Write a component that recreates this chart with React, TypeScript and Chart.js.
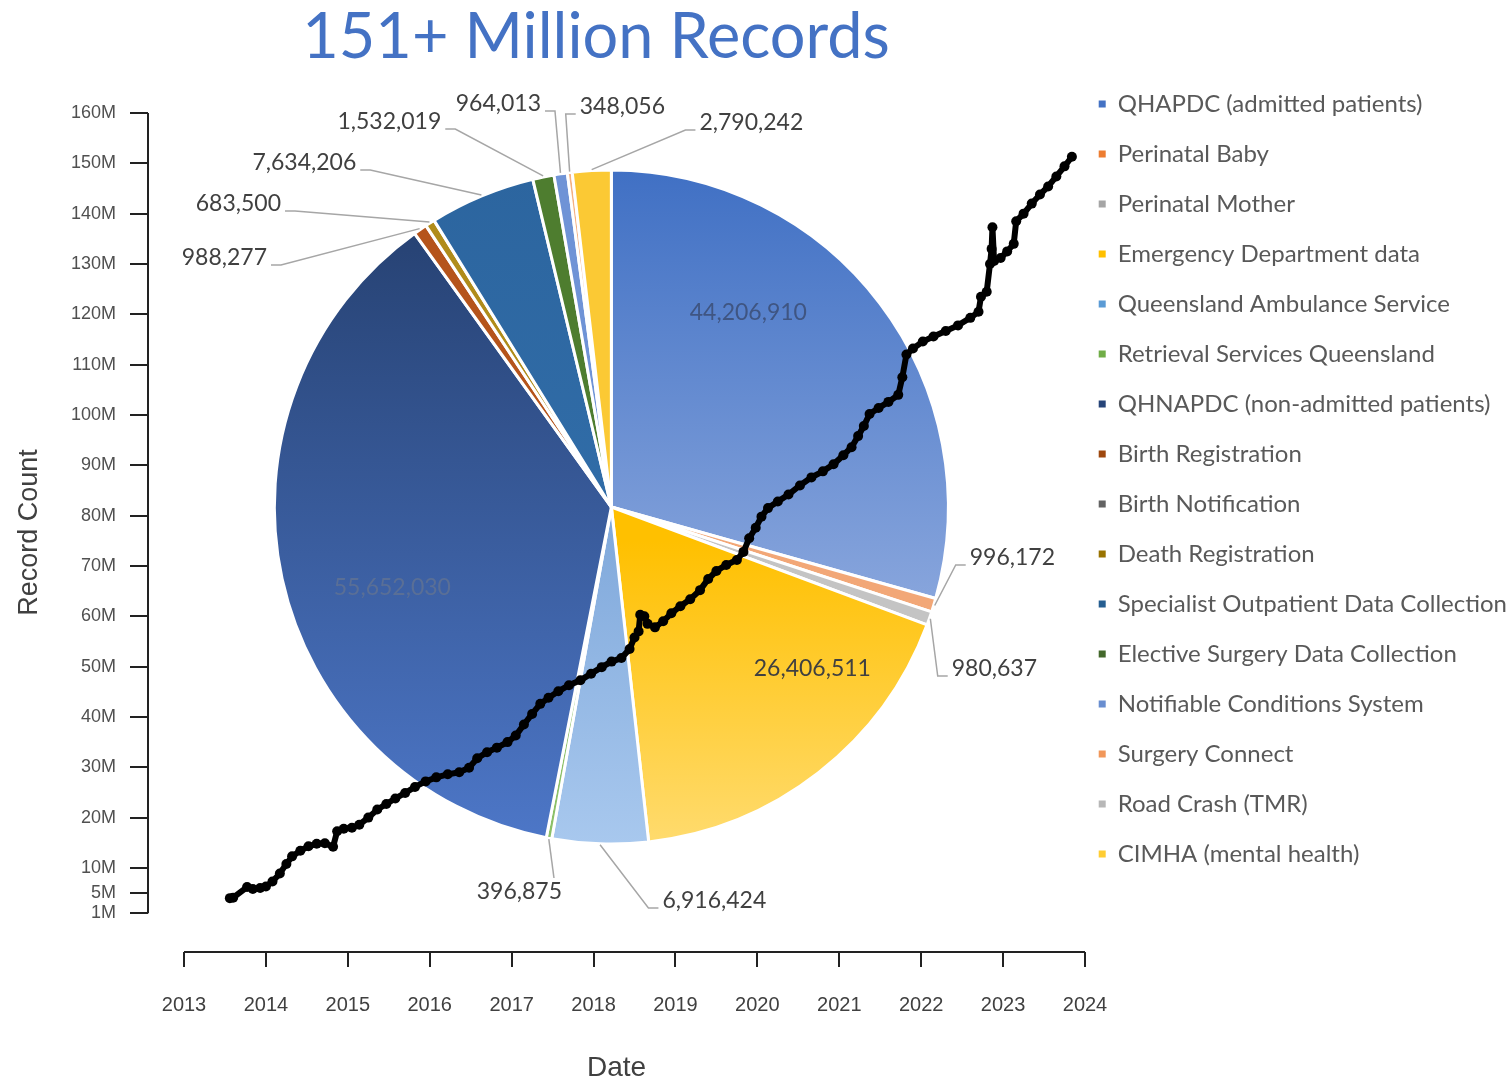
import React, { useEffect, useRef } from "react";
import { Chart, registerables } from "chart.js";

Chart.register(...registerables);

// ---------- data ----------
const TITLE = "151+ Million Records";

const SOURCES = [
  "QHAPDC (admitted patients)",
  "Perinatal Baby",
  "Perinatal Mother",
  "Emergency Department data",
  "Queensland Ambulance Service",
  "Retrieval Services Queensland",
  "QHNAPDC (non-admitted patients)",
  "Birth Registration",
  "Birth Notification",
  "Death Registration",
  "Specialist Outpatient Data Collection",
  "Elective Surgery Data Collection",
  "Notifiable Conditions System",
  "Surgery Connect",
  "Road Crash (TMR)",
  "CIMHA (mental health)",
];

const RECORDS = [
  44206910, 996172, 980637, 26406511, 6916424, 396875, 55652030, 988277, 0,
  683500, 7634206, 1532019, 964013, 348056, 0, 2790242,
];

const LINE_YEARS = [
  2013.56, 2013.6, 2013.77, 2013.84, 2013.93, 2014.0, 2014.08, 2014.17, 2014.25,
  2014.32, 2014.42, 2014.52, 2014.62, 2014.72, 2014.82, 2014.87, 2014.95,
  2015.05, 2015.14, 2015.25, 2015.36, 2015.47, 2015.58, 2015.7, 2015.82,
  2015.95, 2016.08, 2016.22, 2016.36, 2016.48, 2016.58, 2016.7, 2016.82,
  2016.95, 2017.05, 2017.15, 2017.25, 2017.35, 2017.45, 2017.57, 2017.7,
  2017.84, 2017.97, 2018.1, 2018.22, 2018.34, 2018.44, 2018.5, 2018.55,
  2018.57, 2018.62, 2018.66, 2018.75, 2018.85, 2018.95, 2019.06, 2019.18,
  2019.3, 2019.4, 2019.5, 2019.62, 2019.75, 2019.83, 2019.9, 2019.98, 2020.05,
  2020.13, 2020.25, 2020.38, 2020.52, 2020.66, 2020.8, 2020.93, 2021.05,
  2021.15, 2021.23, 2021.3, 2021.37, 2021.48, 2021.6, 2021.72, 2021.77,
  2021.82, 2021.9, 2022.02, 2022.15, 2022.3, 2022.45, 2022.6, 2022.7, 2022.73,
  2022.8, 2022.84, 2022.86, 2022.87, 2022.89, 2022.97, 2023.05, 2023.13,
  2023.16, 2023.25, 2023.35, 2023.45, 2023.55, 2023.65, 2023.75, 2023.84,
];

const LINE_MILLIONS = [
  4.0, 4.1, 6.2, 5.8, 6.0, 6.3, 7.3, 8.9, 10.8, 12.3, 13.4, 14.3, 14.8, 14.9,
  14.2, 17.3, 17.8, 18.0, 18.6, 20.0, 21.6, 22.7, 23.8, 24.9, 26.1, 27.2, 28.0,
  28.6, 29.0, 29.9, 31.8, 33.0, 33.9, 35.0, 36.3, 38.5, 40.6, 42.6, 43.8, 45.1,
  46.3, 47.3, 48.6, 49.9, 51.0, 51.7, 53.5, 55.8, 57.0, 60.3, 60.0, 58.5, 57.8,
  59.0, 60.6, 62.0, 63.4, 65.2, 67.4, 69.0, 70.2, 71.2, 72.8, 75.5, 77.6, 79.8,
  81.5, 82.8, 84.2, 86.0, 87.6, 88.8, 90.2, 92.0, 93.6, 95.8, 97.8, 100.2,
  101.4, 102.6, 104.0, 107.5, 112.0, 113.2, 114.6, 115.6, 116.7, 117.8, 119.3,
  120.5, 123.5, 124.5, 130.0, 133.0, 137.3, 130.6, 131.2, 132.5, 134.0, 138.5,
  140.0, 142.0, 143.8, 145.4, 147.4, 149.4, 151.3,
];

const X_TICKS = [2013, 2014, 2015, 2016, 2017, 2018, 2019, 2020, 2021, 2022, 2023, 2024];
const Y_TICKS_M = [1, 5, 10, 20, 30, 40, 50, 60, 70, 80, 90, 100, 110, 120, 130, 140, 150, 160];

// ---------- styles ----------
const LEGEND_COLORS = [
  "#4472C4", "#ED7D31", "#A5A5A5", "#FFC000", "#5B9BD5", "#70AD47", "#264478",
  "#9E480E", "#636363", "#997300", "#255E91", "#43682B", "#698ED0", "#F1975A",
  "#B7B7B7", "#FFCD33",
];
const SLICE_TOP = [
  "#4070c4", "#f2a777", "#c4c4c4", "#ffc000", "#7ea7da", "#8cc068", "#233d6b",
  "#b5541b", "#7f7f7f", "#b08c1a", "#2c659f", "#4e7d2f", "#6f93d6", "#f4b183",
  "#c9c9c9", "#fbc934",
];
const SLICE_BOTTOM = [
  "#b0c3ea", "#f2a777", "#c4c4c4", "#ffdb6e", "#a8c8ee", "#8cc068", "#4d77c8",
  "#b5541b", "#7f7f7f", "#b08c1a", "#3574b0", "#4e7d2f", "#6f93d6", "#f4b183",
  "#c9c9c9", "#fbc934",
];
const SLICE_GRAD_START = [0, 0, 0, 0.55, 0.5, 0, 0, 0, 0, 0, 0, 0, 0, 0, 0, 0];

const PIE_RADIUS = 337;

// label placement relative to pie centre (layout only)
type Lay = { dx: number; dy: number; side: "inside" | "left" | "right" | "top"; color?: string } | null;
const LABEL_LAYOUT: Lay[] = [
  { dx: 137, dy: -194, side: "inside", color: "#3f5582" },
  { dx: 401, dy: 51, side: "left" },
  { dx: 383, dy: 162, side: "left" },
  { dx: 201, dy: 162, side: "inside", color: "#404040" },
  { dx: 103, dy: 394, side: "left" },
  { dx: -92, dy: 385, side: "top" },
  { dx: -219, dy: 81, side: "inside", color: "#5a6f96" },
  { dx: -387, dy: -249, side: "right" },
  null,
  { dx: -373, dy: -303, side: "right" },
  { dx: -307, dy: -344, side: "right" },
  { dx: -222, dy: -385, side: "right" },
  { dx: -113, dy: -403, side: "right" },
  { dx: 11, dy: -400, side: "left" },
  null,
  { dx: 140, dy: -384, side: "left" },
];

const X_MIN = 2013 - (36 * 11) / 901;
const Y_MIN = -6.7e6;
const AXIS_COLOR = "#222222";
const TEXT_COLOR = "#404040";

function sliceFill(c: any) {
  const i = c.dataIndex;
  const chart = c.chart;
  const area = chart.chartArea;
  if (!area || c.type !== "data") return LEGEND_COLORS[i];
  const cy = (area.top + area.bottom) / 2;
  const g = chart.ctx.createLinearGradient(0, cy - PIE_RADIUS, 0, cy + PIE_RADIUS);
  g.addColorStop(0, SLICE_TOP[i]);
  g.addColorStop(SLICE_GRAD_START[i], SLICE_TOP[i]);
  g.addColorStop(1, SLICE_BOTTOM[i]);
  return g;
}

const pieLabels = {
  id: "pieLabels",
  afterDatasetsDraw(chart: any) {
    const ctx = chart.ctx;
    const meta = chart.getDatasetMeta(0);
    ctx.save();
    ctx.font = "23px Lato";
    ctx.textBaseline = "middle";
    ctx.textAlign = "center";
    meta.data.forEach((arc: any, i: number) => {
      const lay = LABEL_LAYOUT[i];
      if (!lay || !RECORDS[i]) return;
      const { x, y, startAngle, endAngle, outerRadius } = arc.getProps(
        ["x", "y", "startAngle", "endAngle", "outerRadius"],
        true
      );
      const text = RECORDS[i].toLocaleString("en-US");
      const lx = x + lay.dx;
      const ly = y + lay.dy;
      if (lay.side !== "inside") {
        const w = ctx.measureText(text).width;
        const mid = (startAngle + endAngle) / 2;
        const ax = x + Math.cos(mid) * (outerRadius + 1);
        const ay = y + Math.sin(mid) * (outerRadius + 1);
        let cx: number, cy: number, ex: number, ey: number;
        if (lay.side === "left") {
          cx = lx - w / 2 - 4; cy = ly + 7; ex = cx - 10; ey = cy;
        } else if (lay.side === "right") {
          cx = lx + w / 2 + 4; cy = ly + 7; ex = cx + 10; ey = cy;
        } else {
          cx = lx + w / 2 - 8; cy = ly - 14; ex = cx; ey = cy;
        }
        ctx.strokeStyle = "#a6a6a6";
        ctx.lineWidth = 1.5;
        ctx.beginPath();
        ctx.moveTo(ax, ay);
        ctx.lineTo(ex, ey);
        ctx.lineTo(cx, cy);
        ctx.stroke();
      }
      ctx.fillStyle = lay.side === "inside" ? lay.color || TEXT_COLOR : TEXT_COLOR;
      ctx.fillText(text, lx, ly);
    });
    ctx.restore();
  },
};

const axisLines = {
  id: "axisLines",
  beforeDatasetsDraw(chart: any) {
    const { ctx, chartArea, scales } = chart;
    const xs = scales.x;
    const ys = scales.y;
    ctx.save();
    ctx.strokeStyle = AXIS_COLOR;
    ctx.lineWidth = 2;
    ctx.beginPath();
    ctx.moveTo(chartArea.left, ys.getPixelForValue(Y_TICKS_M[0] * 1e6));
    ctx.lineTo(chartArea.left, ys.getPixelForValue(Y_TICKS_M[Y_TICKS_M.length - 1] * 1e6));
    ctx.moveTo(xs.getPixelForValue(X_TICKS[0]), chartArea.bottom);
    ctx.lineTo(xs.getPixelForValue(X_TICKS[X_TICKS.length - 1]), chartArea.bottom);
    ctx.stroke();
    ctx.restore();
  },
};

const Y_AXIS_WIDTH = 148;
const RIGHT_GUTTER = 107;
const Y_TITLE_FONT = 27;
const Y_TITLE_CENTER_X = 30;

export default function App() {
  const pieRef = useRef<HTMLCanvasElement>(null);
  const lineRef = useRef<HTMLCanvasElement>(null);

  useEffect(() => {
    document.body.style.margin = "0";
    const pie = new Chart(pieRef.current as HTMLCanvasElement, {
      type: "pie",
      data: {
        labels: SOURCES,
        datasets: [
          {
            data: RECORDS,
            backgroundColor: sliceFill as any,
            borderColor: "#ffffff",
            borderWidth: 3,
            radius: PIE_RADIUS,
          } as any,
        ],
      },
      options: {
        responsive: false,
        animation: false,
        events: [],
        layout: { padding: { top: 66, bottom: 137, left: 150, right: -5 } },
        plugins: {
          tooltip: { enabled: false },
          legend: {
            position: "right",
            align: "start",
            onClick: () => {},
            labels: {
              boxWidth: 7,
              boxHeight: 7,
              padding: 26,
              color: "#595959",
              font: { family: "Lato", size: 24 },
              generateLabels: () =>
                SOURCES.map((s, i) => ({
                  text: s,
                  fillStyle: LEGEND_COLORS[i],
                  strokeStyle: LEGEND_COLORS[i],
                  lineWidth: 0,
                  hidden: false,
                  index: i,
                  fontColor: "#595959",
                })) as any,
            },
          },
        },
      },
      plugins: [pieLabels],
    });

    const line = new Chart(lineRef.current as HTMLCanvasElement, {
      type: "line",
      data: {
        datasets: [
          {
            label: "Record Count",
            data: LINE_YEARS.map((x, i) => ({ x, y: LINE_MILLIONS[i] * 1e6 })),
            borderColor: "#000000",
            backgroundColor: "#000000",
            borderWidth: 6,
            pointRadius: 5,
            pointBorderWidth: 0,
            pointBackgroundColor: "#000000",
            tension: 0,
          },
        ],
      },
      options: {
        responsive: false,
        animation: false,
        events: [],
        layout: { padding: 0 },
        plugins: {
          legend: { display: false },
          tooltip: { enabled: false },
          title: {
            display: true,
            text: TITLE,
            color: "#4472C4",
            font: { family: "Lato", size: 63, weight: "normal" },
            padding: { top: 0, bottom: 37.4 },
          },
        },
        scales: {
          x: {
            type: "linear",
            min: X_MIN,
            max: X_TICKS[X_TICKS.length - 1],
            afterBuildTicks: (s: any) => {
              s.ticks = X_TICKS.map((v) => ({ value: v }));
            },
            afterFit: (s: any) => {
              s.height = 133;
            },
            border: { display: false },
            grid: {
              drawOnChartArea: false,
              drawTicks: true,
              tickLength: 15,
              color: AXIS_COLOR,
              lineWidth: 2,
            },
            ticks: {
              autoSkip: false,
              maxRotation: 0,
              padding: 26,
              color: TEXT_COLOR,
              font: { family: "Liberation Sans", size: 20 },
              callback: (v: any) => String(v),
            },
            title: {
              display: true,
              text: "Date",
              color: TEXT_COLOR,
              font: { family: "Liberation Sans", size: 28 },
              padding: { top: 0, bottom: 0 },
            },
          },
          y: {
            type: "linear",
            position: "left",
            min: Y_MIN,
            max: Y_TICKS_M[Y_TICKS_M.length - 1] * 1e6,
            afterBuildTicks: (s: any) => {
              s.ticks = Y_TICKS_M.map((v) => ({ value: v * 1e6 }));
            },
            afterFit: (s: any) => {
              s.width = Y_AXIS_WIDTH;
            },
            border: { display: false },
            grid: {
              drawOnChartArea: false,
              drawTicks: true,
              tickLength: 18,
              color: AXIS_COLOR,
              lineWidth: 2,
            },
            ticks: {
              autoSkip: false,
              padding: 14,
              color: "#505050",
              font: { family: "Liberation Sans", size: 18 },
              callback: (v: any) => Math.round(v / 1e6) + "M",
            },
            title: {
              display: true,
              text: "Record Count",
              color: TEXT_COLOR,
              font: { family: "Liberation Sans", size: Y_TITLE_FONT },
              padding: { top: Y_TITLE_CENTER_X - (Y_TITLE_FONT * 1.2) / 2, bottom: 0 },
            },
          },
          // empty right-hand gutter so the full-width title centres over the plot + axis area
          gutter: {
            type: "linear",
            position: "right",
            display: true,
            afterFit: (s: any) => {
              s.width = RIGHT_GUTTER;
            },
            grid: { display: false, drawTicks: false },
            border: { display: false },
            ticks: { display: false },
          },
        },
      },
      plugins: [axisLines],
    });

    return () => {
      pie.destroy();
      line.destroy();
    };
  }, []);

  return (
    <div style={{ position: "fixed", left: 0, top: 0, width: 1512, height: 1085, background: "#ffffff" }}>
      <canvas ref={pieRef} width={1512} height={1085} style={{ position: "absolute", left: 0, top: 0 }} />
      <canvas
        ref={lineRef}
        width={1192}
        height={1085}
        style={{ position: "absolute", left: 0, top: 0, pointerEvents: "none" }}
      />
    </div>
  );
}
